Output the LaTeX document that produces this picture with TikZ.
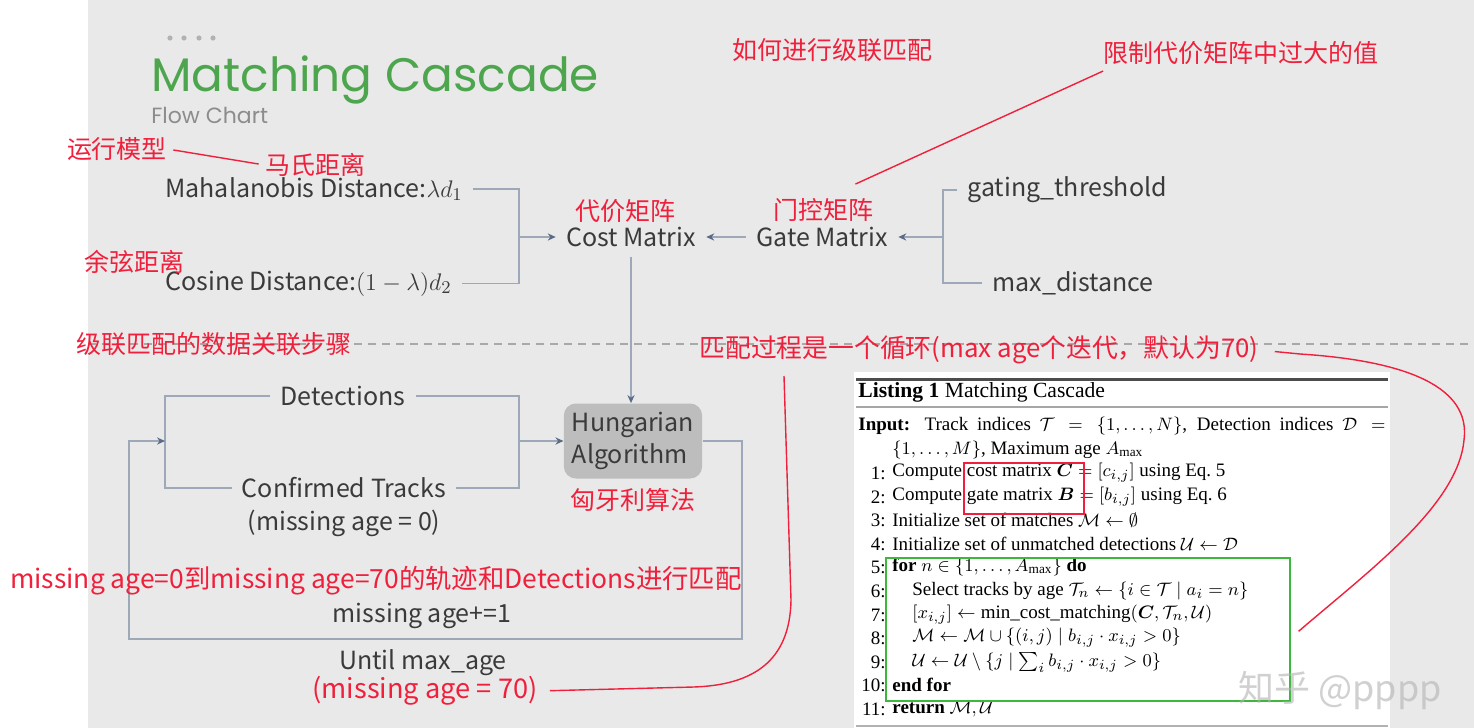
\documentclass[tikz,border=0pt]{standalone}
\usepackage{amsmath}
\usepackage{amssymb}
\usepackage{bm}
\usepackage{fontspec}
\setmainfont{Liberation Serif}
\newfontfamily\cjk{Noto Sans CJK SC}
\newfontfamily\titlefont{Poppins}
\usepackage{xcolor}
\usepackage{tikz}
\usetikzlibrary{positioning, arrows.meta}

\definecolor{bggray}{HTML}{E9E9E9}
\definecolor{linegray}{HTML}{9DA8B8}
\definecolor{tipblue}{HTML}{5B6B87}
\definecolor{textgray}{HTML}{3A3A3A}
\definecolor{notered}{HTML}{F0203C}
\definecolor{titlegreen}{HTML}{4DA64D}
\definecolor{boxgreen}{HTML}{3DB83D}
\definecolor{hunggray}{HTML}{BDBDBD}
\definecolor{dashgray}{HTML}{A8A8A8}

\begin{document}
\begin{tikzpicture}[x=0.5pt, y=-0.5pt,
  flow/.style={font=\cjk\fontsize{12.5}{16}\selectfont, text=textgray, inner sep=5pt},
  note/.style={font=\cjk\fontsize{12.5}{15}\selectfont, text=notered, inner sep=0pt},
  line/.style={draw=linegray, line width=0.8pt},
  arrow/.style={line, -{Stealth[length=4pt, width=3.6pt, color=tipblue]}},
  redline/.style={draw=notered, line width=0.7pt},
  algo/.style={font=\fontsize{9.5}{11.8}\selectfont, inner sep=0pt, anchor=west},
  num/.style={font=\fontsize{9.5}{11.8}\selectfont, inner sep=0pt, anchor=east},
  node distance=4pt]
  \useasboundingbox (0,0) rectangle (1474,728);
  \fill[white] (0,0) rectangle (1474,728);
  \fill[bggray] (88,0) rectangle (1474,728);
  \draw[dashgray, dash pattern=on 4pt off 3pt, line width=1pt] (88,344) -- (1474,344);

  % title
  \fill[gray!60] (170,38) circle (1.3pt) (184,38) circle (1.3pt)
    (199,38) circle (1.3pt) (213,38) circle (1.3pt);
  \node[font=\titlefont\fontsize{23.5}{28}\selectfont, text=titlegreen, anchor=base west, inner sep=0pt] (title) at (151,91) {Matching Cascade};
  \node[font=\titlefont\fontsize{11}{13}\selectfont, text=gray!90, anchor=base west, inner sep=0pt] (subtitle) at (151,123) {Flow Chart};

  % cost matrix part
  \node[flow, anchor=base west] (maha) at (155,197) {Mahalanobis Distance:$\lambda d_1$};
  \node[flow, anchor=base west] (cosd) at (155,290) {Cosine Distance:$(1-\lambda)d_2$};
  \node[flow] (cost) at (631,237) {Cost Matrix};
  \node[flow] (gate) at (822,237) {Gate Matrix};
  \node[flow, anchor=west] (gth) at (957,190) {gating\_threshold};
  \node[flow, anchor=west] (maxd) at (982,283) {max\_distance};
  \coordinate (cb) at (519,237);
  \coordinate (gb) at (943,237);
  \draw[line] (maha.east) -| (cb) |- (cosd.east);
  \draw[arrow] (cb) -- (cost.west);
  \draw[line] (gth.west) -| (gb) |- (maxd.west);
  \draw[arrow] (gb) -- (gate.east);
  \draw[arrow] (gate.west) -- (cost.east);

  % matching loop
  \node[flow, fill=hunggray, rounded corners=6pt, align=left, minimum width=69pt, minimum height=37.5pt, inner sep=4pt] (hung) at (633,441) {Hungarian\\Algorithm};
  \node[flow] (det) at (343,396) {Detections};
  \node[flow] (conf) at (344,488) {Confirmed Tracks};
  \node[flow] (age0) at (344,523) {(missing age = 0)};
  \node[flow] (inc) at (422,616) {missing age+=1};
  \node[flow] (until) at (423,663) {Until max\_age};
  \coordinate (lb) at (165,441);
  \coordinate (rb) at (519,441);
  \coordinate (loopr) at (742,639);
  \coordinate (loopl) at (129,639);
  \draw[arrow] (cost.south) -- (cost.south |- hung.north);
  \draw[line] (det.west) -| (lb) |- (conf.west);
  \draw[line] (det.east) -| (rb) |- (conf.east);
  \draw[arrow] (rb) -- (hung.west);
  \draw[arrow] (hung.east) -| (loopr) -- (loopl) |- (lb);

  % listing
  \fill[white] (854,372) rectangle (1390,728);
  \draw[black!70, line width=1.5pt] (856,379) -- (1388,379);
  \draw[black!35, line width=1.2pt] (856,407) -- (1388,407);
  \draw[black!30, line width=1pt] (856,726) -- (1388,726);
  \node[algo, font=\fontsize{10.8}{13}\selectfont] (lst) at (858,392) {\textbf{Listing 1} Matching Cascade};
  \node[algo] (inp) at (858,426) {\makebox[263.5pt][s]{\textbf{Input:} Track indices $\mathcal{T}=\{1,\dots,N\}$, Detection indices $\mathcal{D}=$}};
  \node[algo] (inp2) at (892,450) {$\{1,\dots,M\}$, Maximum age $A_{\max}$};
  \node[num] (n1) at (886,473) {1:};
  \node[algo] (s1) at (892,473) {Compute cost matrix $\bm{C}=[c_{i,j}]$ using Eq.~5};
  \node[num] (n2) at (886,497) {2:};
  \node[algo] (s2) at (892,497) {Compute gate matrix $\bm{B}=[b_{i,j}]$ using Eq.~6};
  \node[num] (n3) at (886,520) {3:};
  \node[algo] (s3) at (892,520) {Initialize set of matches $\mathcal{M}\leftarrow\emptyset$};
  \node[num] (n4) at (886,544) {4:};
  \node[algo] (s4) at (892,544) {Initialize set of unmatched detections $\mathcal{U}\leftarrow\mathcal{D}$};
  \node[num] (n5) at (886,567) {5:};
  \node[algo] (s5) at (892,567) {\textbf{for} $n\in\{1,\dots,A_{\max}\}$ \textbf{do}};
  \node[num] (n6) at (886,591) {6:};
  \node[algo] (s6) at (912,591) {Select tracks by age $\mathcal{T}_n\leftarrow\{i\in\mathcal{T}\mid a_i=n\}$};
  \node[num] (n7) at (886,615) {7:};
  \node[algo] (s7) at (912,615) {$[x_{i,j}]\leftarrow{}$min\_cost\_matching$(\bm{C},\mathcal{T}_n,\mathcal{U})$};
  \node[num] (n8) at (886,638) {8:};
  \node[algo] (s8) at (912,638) {$\mathcal{M}\leftarrow\mathcal{M}\cup\{(i,j)\mid b_{i,j}\cdot x_{i,j}>0\}$};
  \node[num] (n9) at (886,662) {9:};
  \node[algo] (s9) at (912,662) {$\mathcal{U}\leftarrow\mathcal{U}\setminus\{j\mid\textstyle\sum_i b_{i,j}\cdot x_{i,j}>0\}$};
  \node[num] (n10) at (886,685) {10:};
  \node[algo] (s10) at (892,685) {\textbf{end for}};
  \node[num] (n11) at (886,709) {11:};
  \node[algo] (s11) at (892,709) {\textbf{return} $\mathcal{M},\mathcal{U}$};
  \node[draw=notered, line width=0.8pt, minimum width=60pt, minimum height=25.5pt, inner sep=0pt, anchor=north west] (redbox) at (963,462) {};
  \node[draw=boxgreen, line width=0.8pt, minimum width=202pt, minimum height=71.5pt, inner sep=0pt, anchor=north west] (forbox) at (885,557) {};
  \node[font=\cjk\fontsize{18}{20}\selectfont, text=gray!60, opacity=0.6] (mark) at (1340,690) {知乎 @pppp};

  % red notes
  \node[note] (runcn) at (117,149) {运行模型};
  \node[note] (mahacn) at (315,165) {马氏距离};
  \node[note] (howcn) at (832,50) {如何进行级联匹配};
  \node[note] (limitcn) at (1241,53) {限制代价矩阵中过大的值};
  \node[note] (costcn) at (625,211) {代价矩阵};
  \node[note] (gatecn) at (823,210) {门控矩阵};
  \node[note] (coscn) at (134,262) {余弦距离};
  \node[note] (stepcn) at (214,344) {级联匹配的数据关联步骤};
  \node[note, font=\cjk\fontsize{12.9}{15}\selectfont] (cyccn) at (979,350) {匹配过程是一个循环(max age个迭代，默认为70)};
  \node[note, below=4.5pt of hung] (hungcn) {匈牙利算法};
  \node[note, font=\cjk\fontsize{13.2}{15}\selectfont] (rangecn) at (376,581) {missing age=0到missing age=70的轨迹和Detections进行匹配};
  \node[note, font=\cjk\fontsize{13.6}{15}\selectfont] (age70) at (425,691) {(missing age = 70)};
  \coordinate (cycdown) at (784,376);
  \draw[redline, shorten <=3pt, shorten >=3pt] (runcn.east) -- (mahacn.west);
  \draw[redline] ([shift={(0,6)}]limitcn.south west) -- ([shift={(-18,-14)}]gatecn.north east);
  \draw[redline, shorten >=6pt] (cycdown) -- (791,600) .. controls (790,662) and (752,685) .. (694,687) -- (age70.east);
  \draw[redline, shorten <=8pt] (cyccn.east) -- (1300,354) .. controls (1425,362) and (1470,395) .. (1464,440) .. controls (1458,505) and (1370,570) .. ([shift={(8,2)}]forbox.east);
\end{tikzpicture}
\end{document}
